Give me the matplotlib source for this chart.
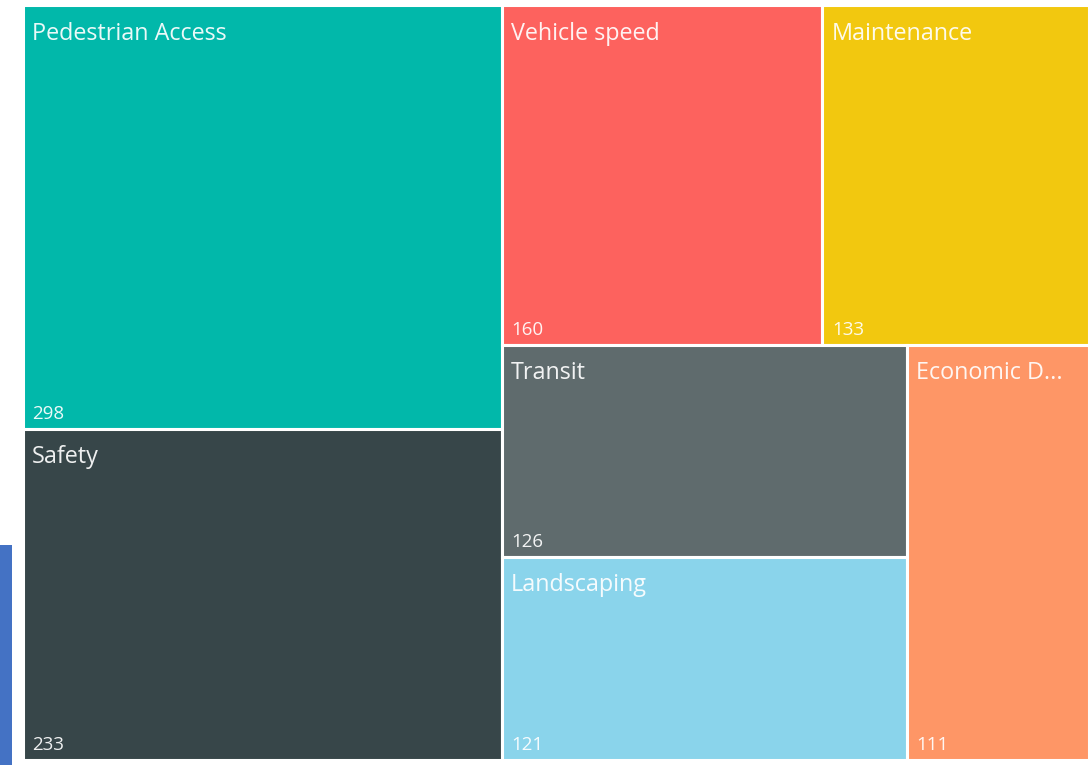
#moduli
import matplotlib.pyplot as plt
from matplotlib.patches import Rectangle

#podaci
categories = ["Pedestrian Access", "Safety", "Vehicle speed", "Maintenance",
              "Transit", "Landscaping", "Economic Development"]
values = [298, 233, 160, 133, 126, 121, 111]
colors = ["#01B8AA", "#374649", "#FD625E", "#F2C80F", "#5F6B6D", "#8AD4EB", "#FE9666"]


#squarify raspored
def worst(row, side):
    s = sum(row)
    return max(max(side*side*r/(s*s), s*s/(side*side*r)) for r in row)


def squarify(areas, x, y, w, h):
    rects = []
    areas = list(areas)
    while areas:
        side = min(w, h)
        row = [areas.pop(0)]
        while areas and worst(row+[areas[0]], side) <= worst(row, side):
            row.append(areas.pop(0))
        s = sum(row)
        if w >= h:
            cw = s/h
            yy = y
            for r in row:
                rects.append((x, yy, cw, r/cw))
                yy += r/cw
            x += cw
            w -= cw
        else:
            rh = s/w
            xx = x
            for r in row:
                rects.append((xx, y, r/rh, rh))
                xx += r/rh
            y += rh
            h -= rh
    return rects


W, H = 1089, 765
x0, y0, w0, h0 = 23, 5, 1066, 755
total = sum(values)
areas = [v/total*w0*h0 for v in values]
rects = squarify(areas, x0, y0, w0, h0)

fig = plt.figure(figsize=(W/100, H/100), dpi=100)
ax = fig.add_axes([0, 0, 1, 1])
ax.set_xlim(0, W)
ax.set_ylim(H, 0)
ax.axis("off")

#plava traka lijevo
ax.add_patch(Rectangle((0, 545), 12, 220, facecolor="#4472C4", edgecolor="none"))

renderer = fig.canvas.get_renderer()
for (x, y, w, h), name, v, c in zip(rects, categories, values, colors):
    ax.add_patch(Rectangle((x, y), w, h, facecolor=c, edgecolor="white", linewidth=2.2))
    t = ax.text(x+9, y+16.5, name, fontsize=16.8, family="Open Sans", color="white",
                alpha=0.92, va="top", ha="left")
    label = name
    while t.get_window_extent(renderer).width > w-30 and len(label) > 1:
        label = label[:-1]
        t.set_text(label.rstrip()+"...")
    ax.text(x+9.5, y+h-10, str(v), fontsize=13.5, family="Open Sans", color="white",
            alpha=0.92, va="baseline", ha="left")

fig.savefig("out.png", dpi=100)
